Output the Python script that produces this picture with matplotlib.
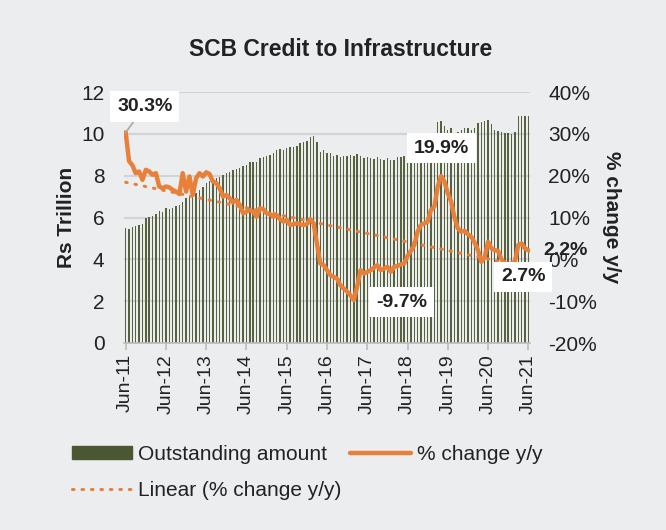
import matplotlib
matplotlib.use("Agg")
import matplotlib.pyplot as plt
import matplotlib.patches as mpatches
import matplotlib.lines as mlines
import numpy as np
import pandas as pd

plt.rcParams['font.family'] = ['Liberation Sans', 'DejaVu Sans']

# monthly, Jun-11 .. Jun-21
months = pd.date_range('2011-06-01', '2021-06-01', freq='MS')

# Rs trillion
outstanding = [
    5.50, 5.45, 5.55, 5.58, 5.66, 5.69, 5.98, 6.03, 6.09, 6.19, 6.30, 6.25,
    6.45, 6.42, 6.45, 6.53, 6.61, 6.72, 6.93, 7.00, 7.10, 7.18, 7.30, 7.45,
    7.63, 7.76, 7.83, 7.89, 7.94, 8.05, 8.13, 8.16, 8.26, 8.32, 8.39, 8.45,
    8.51, 8.64, 8.67, 8.67, 8.83, 8.87, 8.94, 8.99, 9.10, 9.23, 9.26, 9.23,
    9.31, 9.36, 9.39, 9.42, 9.55, 9.62, 9.67, 9.84, 9.90, 9.60, 9.15, 9.23,
    9.10, 9.07, 8.96, 8.99, 8.91, 8.96, 8.94, 8.99, 8.94, 9.04, 8.95, 8.86,
    8.88, 8.84, 8.81, 8.89, 8.80, 8.76, 8.83, 8.73, 8.76, 8.90, 8.88, 8.92,
    8.95, 9.00, 9.02, 9.05, 9.10, 9.12, 9.15, 9.18, 9.22, 10.55, 10.62, 10.38,
    10.19, 10.30, 10.05, 10.10, 10.20, 10.27, 10.30, 10.20, 10.30, 10.51, 10.56, 10.60,
    10.67, 10.47, 10.19, 10.14, 10.08, 10.03, 10.03, 9.98, 10.10, 10.83, 10.87, 10.85,
    10.87,
]

# % change y/y
pct_change = [
    30.3, 23.5, 22.5, 20.6, 21.0, 19.0, 21.4, 21.0, 20.2, 20.6, 17.4, 17.0,
    17.4, 17.2, 16.6, 16.2, 15.6, 20.6, 16.2, 19.8, 15.4, 19.4, 20.6, 19.8,
    20.8, 20.4, 18.6, 18.2, 17.0, 15.0, 15.4, 14.6, 13.6, 14.2, 13.0, 11.0,
    11.4, 11.8, 11.4, 10.2, 12.2, 12.0, 11.0, 10.8, 10.2, 10.6, 9.6, 9.0,
    9.4, 8.2, 8.4, 8.6, 8.4, 8.2, 8.4, 9.6, 8.6, 3.8, -1.0, -1.4,
    -2.6, -3.8, -4.2, -4.6, -6.2, -7.0, -7.7, -8.6, -9.7, -6.5, -2.6, -3.4,
    -3.0, -2.6, -2.0, -1.4, -2.6, -2.2, -1.8, -3.0, -1.8, -1.6, -1.2, -1.0,
    0.8, 2.0, 3.4, 6.6, 8.2, 8.6, 9.0, 11.8, 12.6, 17.4, 19.9, 18.6,
    15.8, 13.8, 10.0, 7.4, 6.6, 6.8, 6.0, 5.4, 4.0, 2.2, -0.6, 0.6,
    4.2, 2.6, 2.2, 2.0, 0.0, -1.0, -1.2, -1.0, -0.5, 3.4, 3.8, 2.6,
    2.2,
]

tick_idx = list(range(0, 121, 12))
tick_labels = [months[i].strftime('%b-%y') for i in tick_idx]

bar_color = '#4a5732'
line_color = '#e8803a'
bg = '#ecedef'
grid_color = '#d3d3d5'
txt = '#222222'

fig = plt.figure(figsize=(6.66, 5.30), dpi=100, facecolor=bg)
ax = fig.add_axes([124 / 666, 187 / 530, 406 / 666, 251 / 530])
ax.set_facecolor('none')
x = np.arange(len(months))

ax.bar(x, outstanding, width=0.42, color='#56633e', zorder=2)
ax.set_xlim(-0.5, 120.5)
ax.set_ylim(0, 12)
ax.set_yticks(range(0, 13, 2))
ax.yaxis.grid(True, color=grid_color, lw=1.5, zorder=0)
ax.set_axisbelow(True)
for s in ['top', 'left', 'right']:
    ax.spines[s].set_visible(False)
ax.spines['bottom'].set_color('#bbbbbb')
ax.spines['bottom'].set_linewidth(1.2)
ax.set_xticks(tick_idx)
ax.set_xticklabels(tick_labels, rotation=90, fontsize=14, color=txt)
ax.tick_params(axis='x', length=5, color='#bbbbbb', width=1.2, pad=3)
ax.tick_params(axis='y', length=0, pad=14, labelsize=15, labelcolor=txt)
ax.set_ylabel('Rs Trillion', fontsize=15, fontweight='bold', color=txt, labelpad=4)

ax2 = ax.twinx()
ax2.plot(x, pct_change, color=line_color, lw=3.2, solid_joinstyle='round', zorder=3)
coef = np.polyfit(x, pct_change, 1)
ax2.plot(x, np.polyval(coef, x), color=line_color, lw=2.2, ls=(0, (0.5, 2.6)),
         dash_capstyle='round', zorder=3)
ax2.set_ylim(-20, 40)
ax2.set_yticks(range(-20, 41, 10))
ax2.set_yticklabels([f'{v}%' for v in range(-20, 41, 10)])
ax2.tick_params(axis='y', length=0, pad=13, labelsize=15, labelcolor=txt)
for s in ['top', 'left', 'right', 'bottom']:
    ax2.spines[s].set_visible(False)
ax2.set_ylabel('% change y/y', fontsize=15, fontweight='bold', color=txt,
               rotation=270, labelpad=17)

box = dict(boxstyle='square,pad=0.35', fc='white', ec='none')
ax2.annotate('30.3%', xy=(0, 30.3), xytext=(5.7, 36.6), ha='center', va='center',
             fontsize=14, fontweight='bold', color=txt, bbox=box,
             arrowprops=dict(arrowstyle='-', color='#a8a8a8', lw=1.2,
                             shrinkA=0, shrinkB=0), annotation_clip=False)
ax2.text(94, 26.6, '19.9%', ha='center', va='center', fontsize=14,
         fontweight='bold', color=txt, bbox=box, zorder=5)
ax2.text(82.2, -10.2, '-9.7%', ha='center', va='center', fontsize=14,
         fontweight='bold', color=txt, bbox=box, zorder=5)
ax2.text(118.5, -4.2, '2.7%', ha='center', va='center', fontsize=14,
         fontweight='bold', color=txt, bbox=box, zorder=5, clip_on=False)
ax2.text(131, 2.2, '2.2%', ha='center', va='center', fontsize=14,
         fontweight='bold', color=txt, zorder=5, clip_on=False)

fig.text(341 / 666, 1 - 49 / 530, 'SCB Credit to Infrastructure', ha='center',
         va='center', fontsize=16.5, fontweight='bold', color=txt)

h_bar = mpatches.Patch(color=bar_color)
h_line = mlines.Line2D([], [], color=line_color, lw=3.2, solid_capstyle='round')
h_trend = mlines.Line2D([], [], color=line_color, lw=2.2, ls=(0, (0.5, 2.6)),
                        dash_capstyle='round')
leg = fig.legend([h_bar, h_trend, h_line],
                 ['Outstanding amount', 'Linear (% change y/y)', '% change y/y'],
                 ncol=2, loc='upper left', bbox_to_anchor=(53 / 666, 1 - 426 / 530),
                 frameon=False, fontsize=15, handlelength=2.9, handleheight=0.6,
                 handletextpad=0.3, columnspacing=0.4, labelspacing=0.85)
for t in leg.get_texts():
    t.set_color(txt)

fig.savefig('out.png', dpi=100, facecolor=bg)
